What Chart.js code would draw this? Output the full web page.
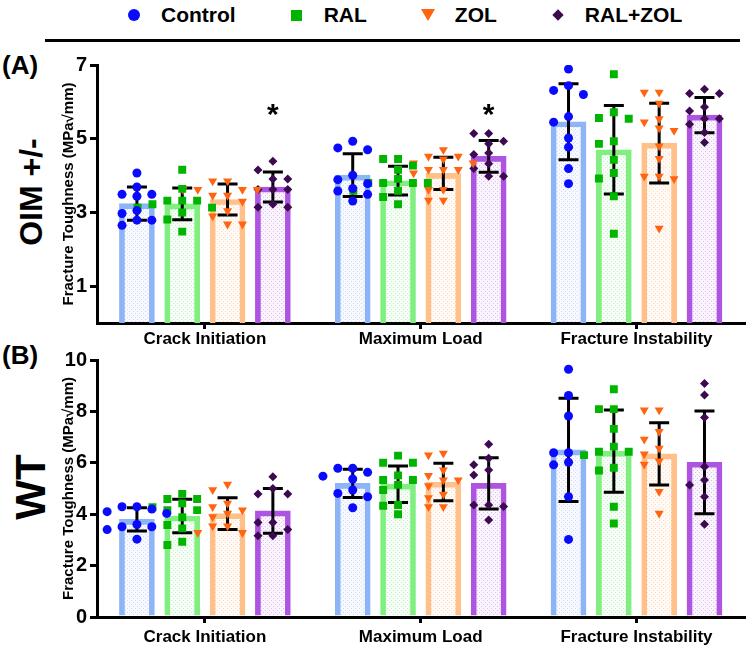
<!DOCTYPE html>
<html>
<head>
<meta charset="utf-8">
<script src="https://cdn.jsdelivr.net/npm/chart.js@4.4.1/dist/chart.umd.min.js"></script>
<style>
  body { margin: 0; background: #fff; width: 750px; height: 652px; position: relative; overflow: hidden;
         font-family: 'Liberation Sans', Arial, sans-serif; }
  #legend { position: absolute; top: 1px; left: 127px; height: 28px; display: flex; align-items: center; gap: 54px; }
  .item { display: flex; align-items: center; font-weight: bold; font-size: 21px; color: #000; }
  .mk { width: 14px; height: 14px; display: flex; align-items: center; justify-content: center; margin-right: 20px; }
  #rule { position: absolute; top: 39px; left: 45px; width: 695px; height: 3px; background: #000; }
  .lbl { position: absolute; font-weight: bold; color: #000; white-space: nowrap; }
  .rot { position: absolute; font-weight: bold; color: #000; white-space: nowrap; transform: translate(-50%, -50%) rotate(-90deg); }
  .panel { position: absolute; left: 0; width: 750px; }
</style>
</head>
<body>
<div id="legend"></div>
<div id="rule"></div>
<div class="lbl" style="left:2px;top:50px;font-size:26px">(A)</div>
<div class="rot" style="left:31px;top:192px;font-size:32px">OIM +/-</div>
<div class="lbl" style="left:2px;top:340px;font-size:26px">(B)</div>
<div class="rot" style="left:31px;top:487px;font-size:42px">WT</div>
<div class="panel" style="top:50px;height:305px"><canvas id="chartA"></canvas></div>
<div class="panel" style="top:345px;height:307px"><canvas id="chartB"></canvas></div>

<script>
var categories = ['Crack Initiation', 'Maximum Load', 'Fracture Instability'];
var groups = ['Control', 'RAL', 'ZOL', 'RAL+ZOL'];

// OIM +/- : bar means and SD, one row per group
var oimMean = [[3.24, 4.01, 5.46], [3.23, 3.86, 4.70], [3.35, 4.06, 4.88], [3.69, 4.52, 5.64]];
var oimSd = [[0.45, 0.58, 1.03], [0.43, 0.39, 1.20], [0.42, 0.44, 1.08], [0.41, 0.43, 0.48]];
// individual samples, one list per category
var oimControl = [[4.07, 3.69, 3.49, 3.49, 3.44, 3.05, 2.97, 2.79, 2.79, 2.65],
                  [4.93, 4.75, 4.70, 4.01, 3.89, 3.78, 3.65, 3.58, 3.49, 3.31],
                  [6.89, 6.44, 6.31, 6.20, 5.60, 5.45, 5.02, 4.77, 4.19, 3.78]];
var oimRal = [[4.16, 3.64, 3.32, 3.32, 3.32, 3.22, 3.13, 3.13, 3.00, 2.81, 2.48],
              [4.45, 4.45, 4.27, 4.16, 3.91, 3.80, 3.80, 3.80, 3.80, 3.59, 3.59, 3.42, 3.22],
              [6.75, 5.72, 5.56, 5.54, 4.93, 4.86, 4.43, 4.07, 3.92, 3.44, 2.42]];
var oimZol = [[3.85, 3.85, 3.62, 3.62, 3.62, 3.62, 3.46, 3.46, 3.30, 3.04, 2.90, 2.68, 2.68],
              [4.70, 4.52, 4.52, 4.45, 4.34, 4.34, 4.16, 4.16, 4.16, 4.07, 3.62, 3.62, 3.33, 3.33],
              [6.26, 6.26, 5.96, 5.54, 5.45, 5.29, 5.22, 4.80, 4.46, 3.98, 3.98, 3.91, 2.57]];
var oimRalZol = [[4.39, 4.15, 3.91, 3.91, 3.62, 3.62, 3.62, 3.22, 3.14, 3.14],
                 [5.14, 5.14, 4.93, 4.86, 4.61, 4.57, 4.32, 4.19, 3.98, 3.98],
                 [6.34, 6.23, 6.23, 5.86, 5.75, 5.54, 5.54, 5.39, 5.17, 4.90]];
var oimStars = [0, 1]; // categories with * over RAL+ZOL

// WT
var wtMean = [[3.80, 5.20, 6.50], [3.93, 5.17, 6.45], [4.02, 5.25, 6.35], [4.13, 5.20, 6.02]];
var wtSd = [[0.45, 0.55, 2.01], [0.65, 0.71, 1.60], [0.62, 0.73, 1.21], [0.87, 1.00, 2.00]];
var wtControl = [[4.29, 4.29, 4.20, 4.10, 4.03, 3.60, 3.51, 3.51, 3.40, 3.03],
                 [5.79, 5.79, 5.63, 5.48, 5.37, 4.94, 4.81, 4.68, 4.25],
                 [9.64, 8.62, 7.82, 6.39, 6.39, 6.02, 5.92, 4.68, 3.02]];
var wtRal = [[4.79, 4.59, 4.59, 4.42, 4.27, 4.16, 4.16, 3.88, 3.58, 3.45, 2.93, 2.80],
             [6.28, 6.00, 6.00, 5.51, 5.33, 5.33, 5.14, 4.94, 4.36, 4.33, 4.00],
             [8.86, 8.09, 8.09, 7.32, 6.63, 6.43, 6.43, 6.30, 5.81, 5.70, 4.29, 3.64]];
var wtZol = [[5.16, 4.95, 4.42, 4.29, 4.16, 4.03, 3.90, 3.54, 3.54, 3.28, 3.28],
             [6.37, 6.30, 5.72, 5.50, 5.33, 5.33, 5.10, 4.77, 4.64, 4.29, 4.29],
             [8.05, 8.05, 7.21, 6.91, 6.56, 6.34, 6.07, 5.94, 4.88, 4.03]];
var wtRalZol = [[5.46, 5.00, 4.79, 4.79, 3.68, 3.68, 3.40, 3.16, 3.16],
                [6.72, 6.18, 5.92, 5.72, 5.53, 4.36, 4.36, 4.30, 3.77],
                [9.09, 8.64, 7.76, 5.85, 5.33, 5.14, 4.68, 3.61]];
var wtStars = [];

var oimTicks = [1, 3, 5, 7];
var wtTicks = [0, 2, 4, 6, 8, 10];

// styles
var edgeColors = ['#8cb4f6', '#80ef80', '#ffc08a', '#ad55e0'];
var fillRgb = [[120, 160, 240], [110, 220, 110], [255, 170, 110], [170, 80, 220]];
var pointColors = ['#0a0aff', '#00b400', '#ff6410', '#3c0a50'];
var pointStyles = ['circle', 'rect', 'triangle', 'rectRot'];
var pointSizes = [4.5, 5.6, 5.2, 4.5];
var pointRot = [0, 0, 180, 0];
var FONT = "'Liberation Sans', Arial, sans-serif";

// html legend
var markerCss = [
  'width:12px;height:12px;border-radius:50%;background:' + pointColors[0],
  'width:11px;height:11px;background:' + pointColors[1],
  'width:0;height:0;border-left:7px solid transparent;border-right:7px solid transparent;border-top:12px solid ' + pointColors[2],
  'width:8px;height:8px;transform:rotate(45deg);background:' + pointColors[3]
];
var legend = document.getElementById('legend');
groups.forEach(function (g, j) {
  var item = document.createElement('div');
  item.className = 'item';
  item.innerHTML = '<span class="mk"><span style="' + markerCss[j] + '"></span></span>' + g;
  legend.appendChild(item);
});

function dotPattern(rgb) {
  var c = document.createElement('canvas');
  c.width = 4; c.height = 4;
  var x = c.getContext('2d');
  x.fillStyle = 'rgba(' + rgb.join(',') + ',0.06)';
  x.fillRect(0, 0, 4, 4);
  x.fillStyle = 'rgba(' + rgb.join(',') + ',0.35)';
  x.fillRect(1, 1, 1, 1);
  x.fillRect(3, 3, 1, 1);
  return x.createPattern(c, 'repeat');
}

// simple beeswarm: spread points that would overlap into side columns
function swarm(vals, ppu) {
  var step = 15, placed = [], out = [];
  var idx = vals.map(function (v, i) { return i; }).sort(function (a, b) { return vals[b] - vals[a]; });
  idx.forEach(function (i) {
    var y = vals[i] * ppu;
    for (var k = 0; k < 20; k++) {
      var dx = k === 0 ? 0 : (k % 2 ? -1 : 1) * Math.ceil(k / 2) * step;
      var hit = placed.some(function (p) { return Math.abs(p.x - dx) < 10 && Math.abs(p.y - y) < 9; });
      if (!hit) { placed.push({ x: dx, y: y }); out[i] = dx; break; }
    }
  });
  return out;
}

var errorBars = {
  id: 'errorBars',
  beforeDatasetsDraw: function (chart) { chart.$errDone = false; },
  beforeDatasetDraw: function (chart, args) {
    if (chart.$errDone || args.meta.type !== 'scatter') return;
    chart.$errDone = true;
    var ctx = chart.ctx, y = chart.scales.y;
    ctx.save();
    ctx.strokeStyle = '#000';
    ctx.lineWidth = 3;
    chart.data.datasets.forEach(function (ds, di) {
      if (ds.type !== 'bar') return;
      chart.getDatasetMeta(di).data.forEach(function (bar, i) {
        var t = y.getPixelForValue(ds.data[i].y + ds.sd[i]);
        var b = y.getPixelForValue(ds.data[i].y - ds.sd[i]);
        ctx.beginPath();
        ctx.moveTo(bar.x, t); ctx.lineTo(bar.x, b);
        ctx.moveTo(bar.x - 10, t); ctx.lineTo(bar.x + 10, t);
        ctx.moveTo(bar.x - 10, b); ctx.lineTo(bar.x + 10, b);
        ctx.stroke();
      });
    });
    var opts = chart.options.plugins.errorBars;
    var last = chart.getDatasetMeta(3).data;
    ctx.fillStyle = '#000';
    ctx.font = 'bold 30px ' + FONT;
    ctx.textAlign = 'center';
    ctx.textBaseline = 'alphabetic';
    opts.stars.forEach(function (i) {
      ctx.fillText('*', last[i].x, y.getPixelForValue(opts.starLevel));
    });
    ctx.restore();
  }
};

function makePanel(id, means, sds, pts, yMax, ticks, stars, starLevel, xh, labelPad) {
  var ppu = 258 / yMax, catPx = 652 / 3, slot = 0.21;
  var datasets = [];
  // bars sit on the linear x scale, one slot per group inside each category
  groups.forEach(function (g, j) {
    datasets.push({
      type: 'bar', label: g, xAxisID: 'xs', grouped: false, barThickness: 35,
      data: means[j].map(function (m, i) { return { x: i + (j - 1.5) * slot, y: m }; }),
      sd: sds[j],
      backgroundColor: dotPattern(fillRgb[j]), borderColor: edgeColors[j], borderWidth: 5, order: 2
    });
  });
  groups.forEach(function (g, j) {
    var data = [];
    pts[j].forEach(function (vals, i) {
      var dx = swarm(vals, ppu);
      vals.forEach(function (v, k) {
        data.push({ x: i + (j - 1.5) * slot + dx[k] / catPx, y: v });
      });
    });
    datasets.push({
      type: 'scatter', label: g, data: data, xAxisID: 'xs',
      pointStyle: pointStyles[j], rotation: pointRot[j], pointRadius: pointSizes[j],
      backgroundColor: pointColors[j], borderColor: pointColors[j], borderWidth: 0, order: 1
    });
  });

  return new Chart(document.getElementById(id), {
    type: 'bar',
    data: { labels: categories, datasets: datasets },
    options: {
      responsive: true,
      maintainAspectRatio: false,
      animation: false,
      layout: { padding: { top: 15, right: 2, left: 0, bottom: 0 } },
      plugins: {
        legend: { display: false },
        tooltip: { enabled: false },
        errorBars: { stars: stars, starLevel: starLevel }
      },
      scales: {
        x: {
          type: 'category', offset: true,
          grid: { offset: false, drawOnChartArea: false, tickLength: 6, color: '#000', lineWidth: 3 },
          border: { color: '#000', width: 3 },
          ticks: { color: '#000', padding: labelPad, maxRotation: 0, font: { family: FONT, size: 17, weight: 'bold' } },
          afterFit: function (s) { s.height = xh; }
        },
        xs: { type: 'linear', min: -0.5, max: 2.5, offset: false, display: false },
        y: {
          min: 0, max: yMax,
          afterBuildTicks: function (s) { s.ticks = ticks.map(function (v) { return { value: v }; }); },
          grid: { drawOnChartArea: false, tickLength: 7, color: '#000', lineWidth: 3 },
          border: { color: '#000', width: 3 },
          ticks: { color: '#000', padding: 3, font: { family: FONT, size: 20, weight: 'bold' } },
          title: {
            display: true, text: 'Fracture Toughness (MPa√mm)', color: '#000',
            font: { family: FONT, size: 15, weight: 'bold' }, padding: { top: 60, bottom: 0 }
          },
          afterFit: function (s) { s.width = 97; }
        }
      }
    },
    plugins: [errorBars]
  });
}

makePanel('chartA', oimMean, oimSd, [oimControl, oimRal, oimZol, oimRalZol], 7, oimTicks, oimStars, 5.4, 32, 0);
makePanel('chartB', wtMean, wtSd, [wtControl, wtRal, wtZol, wtRalZol], 10, wtTicks, wtStars, 0, 35, 4);
</script>
</body>
</html>
